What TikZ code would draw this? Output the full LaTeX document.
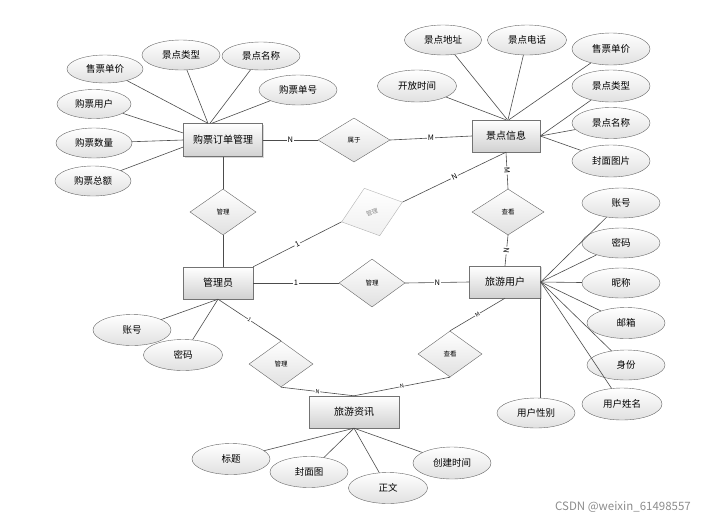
\documentclass[tikz,border=0pt]{standalone}
\usepackage{fontspec}
\setmainfont{Noto Sans CJK SC}
\usetikzlibrary{shapes.geometric,shadows}

\begin{document}
\begin{tikzpicture}[x=1pt,y=-1pt]
	\tikzstyle{entity} = [rectangle, draw=black!55, top color=white, bottom color=black!18, 
	minimum width=70pt, minimum height=32pt, font=\fontsize{10}{12}\selectfont, 
	drop shadow={shadow xshift=1pt, shadow yshift=-1pt, fill=black!30}]
	\tikzstyle{attr} = [ellipse, draw=black!60, top color=white, bottom color=black!12, 
	minimum width=78pt, minimum height=30pt, inner sep=0pt, font=\fontsize{9.5}{11}\selectfont]
	\tikzstyle{relation} = [diamond, draw=black!60, top color=white, bottom color=black!12, 
	minimum width=66pt, minimum height=46pt, inner sep=0pt, font=\fontsize{6.5}{8}\selectfont]
	\tikzstyle{line} = [draw=black!70, line width=0.6pt]
	\tikzstyle{card} = [fill=white, inner sep=1pt, font=\fontsize{7.5}{9}\selectfont]
	\tikzstyle{smallcard} = [fill=white, inner sep=0.5pt, sloped, font=\fontsize{5.5}{7}\selectfont]
	\useasboundingbox (0,0) rectangle (715,520);
	% entities
	\node (orderMgmt) [entity, minimum width=79pt, minimum height=33pt] at (223,140) {购票订单管理};
	\node (spotInfo) [entity, minimum width=68pt] at (506,136) {景点信息};
	\node (admin) [entity] at (218,283) {管理员};
	\node (tourUser) [entity, minimum width=71pt] at (505,282) {旅游用户};
	\node (tourNews) [entity, minimum width=90pt] at (354,412) {旅游资讯};
	% relations
	\node (belongTo) [relation, minimum width=72pt, minimum height=44pt] at (354,140) {属于};
	\node (manageOrder) [relation] at (223,212) {管理};
	\node (viewSpot) [relation, minimum width=72pt] at (508,212) {查看};
	\node (manageUser) [relation, minimum height=48pt] at (372,283) {管理};
	\node (manageSpot) [relation, draw=black!30, top color=white, bottom color=black!6, text=black!45, 
	rotate=18, minimum width=64pt, minimum height=50pt, font=\fontsize{6}{7}\selectfont] at (372,212) {管理};
	\node (manageNews) [relation, minimum width=64pt] at (281,364) {管理};
	\node (viewNews) [relation, minimum width=64pt] at (450,354) {查看};
	% attributes of the order
	\node (sellPrice) [attr, minimum width=76pt, minimum height=28pt] at (105,69) {售票单价};
	\node (spotType) [attr] at (181,55) {景点类型};
	\node (spotName) [attr, minimum height=28pt] at (261,56) {景点名称};
	\node (orderNo) [attr] at (298,90) {购票单号};
	\node (buyer) [attr, minimum width=74pt, minimum height=29pt] at (94,104) {购票用户};
	\node (amount) [attr, minimum width=76pt] at (94,143) {购票数量};
	\node (total) [attr, minimum width=76pt] at (93,181) {购票总额};
	% attributes of the spot
	\node (address) [attr, minimum width=77pt] at (443,40) {景点地址};
	\node (phone) [attr, minimum width=79pt] at (527,40) {景点电话};
	\node (spotPrice) [attr, minimum height=32pt] at (611,49) {售票单价};
	\node (openTime) [attr, minimum width=79pt, minimum height=32pt] at (417,86) {开放时间};
	\node (spotKind) [attr, minimum height=32pt] at (611,86) {景点类型};
	\node (spotTitle) [attr, minimum height=31pt] at (611,123) {景点名称};
	\node (cover) [attr, minimum height=32pt] at (611,161) {封面图片};
	% attributes of the user
	\node (account) [attr] at (621,203) {账号};
	\node (password) [attr] at (621,243) {密码};
	\node (nickname) [attr] at (621,283) {昵称};
	\node (email) [attr, minimum height=31pt] at (626,323) {邮箱};
	\node (identity) [attr] at (626,365) {身份};
	\node (realName) [attr, minimum width=80pt, minimum height=32pt] at (622,404) {用户姓名};
	\node (gender) [attr] at (536,413) {用户性别};
	% attributes of the admin
	\node (adminAcc) [attr, minimum height=31pt] at (132,330) {账号};
	\node (adminPwd) [attr, minimum width=79pt, minimum height=31pt] at (183,355) {密码};
	% attributes of the news
	\node (title) [attr, minimum height=31pt] at (231,459) {标题};
	\node (coverImg) [attr, minimum height=31pt] at (309,472) {封面图};
	\node (body) [attr, minimum width=79pt, minimum height=31pt] at (388,488) {正文};
	\node (created) [attr, minimum height=32pt] at (452,463) {创建时间};
	% attribute lines
	\foreach \a/\b in {sellPrice/132, spotType/132, spotName/128, orderNo/124, buyer/170, amount/180, total/190}
		\draw [line] (\a) -- (orderMgmt.\b);
	\foreach \a/\b in {address/85, phone/83, spotPrice/80, openTime/north, spotKind/east, spotTitle/east, cover/east}
		\draw [line] (\a) -- (spotInfo.\b);
	\foreach \a in {account, password, nickname, email, identity, realName}
		\draw [line] (\a) -- (tourUser.east);
	\draw [line] (tourUser.south east) -- (tourUser.south east |- gender.north);
	\foreach \a in {adminAcc, adminPwd}
		\draw [line] (\a) -- (admin.south);
	\foreach \a in {title, coverImg, body, created}
		\draw [line] (\a) -- (tourNews.south);
	% relation lines
	\draw [line] (orderMgmt.east) -- node[card] {N} (belongTo.west);
	\draw [line] (belongTo.east) -- node[card] {M} (spotInfo.west);
	\draw [line] (orderMgmt.south) -- (manageOrder.north);
	\draw [line] (manageOrder.south) -- (manageOrder.south |- admin.north);
	\draw [line] (spotInfo.south) -- node[card, sloped] {M} (viewSpot.north);
	\draw [line] (viewSpot.south) -- node[card, sloped] {N} (tourUser.north);
	\draw [line] (admin.east) -- node[card] {1} (manageUser.west);
	\draw [line] (manageUser.east) -- node[card] {N} (tourUser.west);
	\draw [line] (admin.north east) -- node[card, sloped] {1} (manageSpot.west);
	\draw [line] (manageSpot.east) -- node[card, sloped] {N} (spotInfo.south);
	\draw [line] (admin.south) -- node[smallcard] {1} (manageNews.north);
	\draw [line] (manageNews.south) -- node[smallcard] {N} (tourNews.north);
	\draw [line] (viewNews.south) -- node[smallcard] {N} (tourNews.north);
	\draw [line] (viewNews.north) -- node[smallcard] {M} (tourUser.south);
	% watermark
	\node (watermark) [text=black!45, font=\fontsize{11.5}{13}\selectfont] at (623,507) {CSDN @weixin\_61498557};
\end{tikzpicture}
\end{document}
